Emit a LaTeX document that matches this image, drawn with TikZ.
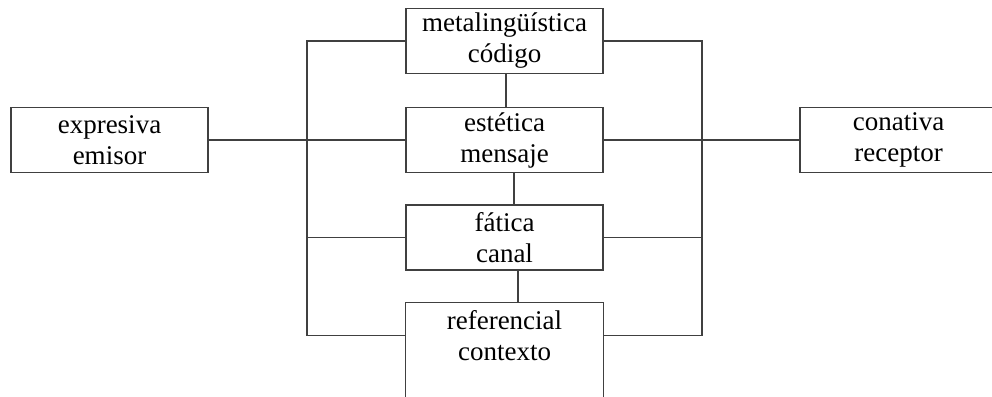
\documentclass[tikz,border=0pt]{standalone}
\usepackage{fontspec}
\setmainfont{Liberation Serif}
\usetikzlibrary{calc}

\begin{document}
\begin{tikzpicture}[x=1pt,y=-1pt,
    box/.style={draw=black!75,line width=1.3pt,minimum width=197pt,minimum height=65pt,
        inner sep=0pt,align=center,font=\fontsize{27}{31}\selectfont},
    wire/.style={draw=black!75,line width=1.3pt}]
    \clip (0,0) rectangle (992,396);

    % Functions and factors
    \node[box] (meta) at (504.5,41) {metalingüística\\código};
    \node[box] (est) at (504.5,140) {estética\\mensaje};
    \node[box] (fat) at (504.5,237.5) {fática\\canal};
    \node[box,draw=none] (ref) at (504.5,335.5) {referencial\\contexto};
    \node[box] (emi) at (109.5,140) {expresiva\\emisor};
    \node[box] (rec) at (898.5,140) {conativa\\receptor};

    % Open box at the bottom
    \draw[wire] ([yshift=-40pt]ref.south west) -- (ref.north west)
        -- (ref.north east) -- ([yshift=-40pt]ref.south east);

    % Middle column
    \draw[wire] ([xshift=1.5pt]meta.south) -- ([xshift=1.5pt]est.north);
    \draw[wire] ([xshift=9.5pt]est.south) -- ([xshift=9.5pt]fat.north);
    \draw[wire] ([xshift=13.5pt]fat.south) -- ([xshift=13.5pt]ref.north);

    % Left and right buses
    \coordinate (lbus) at (307,0);
    \coordinate (rbus) at (702,0);
    \draw[wire] (meta.west) -- (meta.west -| lbus) |- (ref.west);
    \draw[wire] (meta.east) -- (meta.east -| rbus) |- (ref.east);
    \draw[wire] (fat.west) -- (fat.west -| lbus);
    \draw[wire] (fat.east) -- (fat.east -| rbus);
    \draw[wire] (emi.east) -- (est.west);
    \draw[wire] (est.east) -- (rec.west);
\end{tikzpicture}
\end{document}
